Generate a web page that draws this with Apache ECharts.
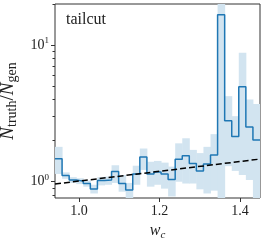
<!DOCTYPE html>
<html><head><meta charset="utf-8">
<script src="https://cdn.jsdelivr.net/npm/echarts@6/dist/echarts.min.js"></script>
<style>html,body{margin:0;padding:0;background:#fff}#c{width:274px;height:240px}</style>
</head><body><div id="c"></div>
<script>
// bin edges (w_c)
const binEdges = [0.9400, 0.9576, 0.9752, 0.9928, 1.0103, 1.0279, 1.0455, 1.0631, 1.0807, 1.0983,
  1.1159, 1.1334, 1.1510, 1.1686, 1.1862, 1.2038, 1.2214, 1.2390, 1.2566, 1.2741,
  1.2917, 1.3093, 1.3269, 1.3445, 1.3621, 1.3797, 1.3972, 1.4148, 1.4324, 1.4500];
// N_truth / N_gen per bin
const ratio = [1.47, 1.11, 1.03, 1.01, 0.97, 0.885, 1.02, 1.03, 1.19, 0.97,
  0.87, 1.14, 1.52, 1.14, 1.18, 1.14, 1.04, 1.46, 1.55, 1.36,
  1.20, 1.35, 1.57, 16.7, 2.79, 2.14, 4.95, 2.52, 2.02];
// uncertainty band
const bandLow = [1.14, 1.05, 0.98, 0.96, 0.92, 0.82, 0.94, 0.95, 0.98, 0.845,
  0.72, 0.95, 1.22, 0.92, 0.95, 0.89, 0.78, 1.00, 0.97, 0.97,
  0.88, 0.82, 0.86, 0.50, 1.30, 1.20, 1.12, 1.03, 0.70];
const bandHigh = [1.80, 1.17, 1.08, 1.06, 1.02, 0.95, 1.08, 1.09, 1.32, 1.12,
  0.98, 1.31, 1.75, 1.40, 1.42, 1.38, 1.29, 1.91, 2.08, 1.71,
  1.62, 1.80, 2.23, 40.0, 4.23, 3.02, 8.80, 4.00, 3.70];
// dashed reference line
const fitX = [0.94, 1.45];
const fitY = [0.962, 1.465];
const xTicks = [1.0, 1.2, 1.4];
const yMajorTicks = [1, 10];
const yMinorTicks = [0.8, 0.9, 2, 3, 4, 5, 6, 7, 8, 9, 20];
const panelLabel = 'tailcut';

const X_MIN = 0.94, X_MAX = 1.45, Y_MIN = 0.76, Y_MAX = 20;
const SERIF = '"Liberation Serif", "DejaVu Serif", serif';
const BLUE = '#1f77b4';

const stepData = binEdges.map((e, i) => [e, ratio[Math.min(i, ratio.length - 1)]]);
const bandData = ratio.map((_, i) => [binEdges[i], binEdges[i + 1], bandLow[i], bandHigh[i]]);
const fitData = fitX.map((x, i) => [x, fitY[i]]);

const chart = echarts.init(document.getElementById('c'), null, {renderer: 'canvas'});
const yLabelRich = {
  b: {fontFamily: SERIF, fontSize: 14, color: '#222', lineHeight: 18},
  p: {fontFamily: SERIF, fontSize: 9, color: '#222', lineHeight: 9, verticalAlign: 'top'}
};
chart.setOption({
  animation: false,
  backgroundColor: '#fff',
  grid: {left: 55, right: 14, top: 4, bottom: 42, outerBoundsMode: 'none', containLabel: false,
    show: true, borderColor: '#333', borderWidth: 1, backgroundColor: 'transparent'},
  xAxis: {
    type: 'value', min: X_MIN, max: X_MAX,
    axisLine: {show: false},
    splitLine: {show: false},
    axisTick: {show: true, length: 4, customValues: xTicks, lineStyle: {color: '#333'}},
    axisLabel: {customValues: xTicks, margin: 6, fontFamily: SERIF, fontSize: 14, color: '#222',
      formatter: v => v.toFixed(1)},
    name: '{i|w}{s|c}', nameLocation: 'middle', nameGap: 21,
    nameTextStyle: {rich: {
      i: {fontFamily: SERIF, fontStyle: 'italic', fontSize: 16, color: '#222', lineHeight: 20},
      s: {fontFamily: SERIF, fontStyle: 'italic', fontSize: 11, color: '#222', lineHeight: 10, verticalAlign: 'bottom'}
    }}
  },
  yAxis: [{
    type: 'log', logBase: 10, min: Y_MIN, max: Y_MAX,
    axisLine: {show: false},
    splitLine: {show: false},
    minorTick: {show: false},
    axisTick: {show: true, length: 4, customValues: yMajorTicks, lineStyle: {color: '#333'}},
    axisLabel: {customValues: yMajorTicks, margin: 6,
      formatter: v => '{b|10}{p|' + Math.round(Math.log10(v)) + '}', rich: yLabelRich},
    name: '{i|N}{s|truth}{n|/}{i|N}{s|gen}', nameLocation: 'middle', nameRotate: 90, nameGap: 35,
    nameTextStyle: {rich: {
      i: {fontFamily: SERIF, fontStyle: 'italic', fontSize: 19, color: '#222', lineHeight: 24},
      n: {fontFamily: SERIF, fontSize: 19, color: '#222', lineHeight: 24},
      s: {fontFamily: SERIF, fontSize: 14, color: '#222', lineHeight: 12, verticalAlign: 'bottom'}
    }}
  }, {
    type: 'log', logBase: 10, min: Y_MIN, max: Y_MAX, position: 'left',
    axisLine: {show: false}, splitLine: {show: false},
    axisTick: {show: true, length: 2.5, customValues: yMinorTicks, lineStyle: {color: '#333'}},
    axisLabel: {show: false}
  }],
  graphic: [{
    type: 'text', left: 66, top: 12,
    style: {text: panelLabel, font: '16px ' + SERIF, fill: '#222'}
  }],
  series: [{
    type: 'custom', clip: true, z: 1,
    renderItem: (params, api) => {
      const p0 = api.coord([api.value(0), api.value(3)]);
      const p1 = api.coord([api.value(1), api.value(2)]);
      return {type: 'rect', shape: {x: p0[0], y: p0[1], width: p1[0] - p0[0] + 0.5, height: p1[1] - p0[1]},
        style: {fill: '#d2e4f0'}};
    },
    encode: {x: [0, 1], y: [2, 3]},
    data: bandData
  }, {
    type: 'line', step: 'end', data: stepData, symbol: 'none', clip: true, z: 2,
    lineStyle: {color: BLUE, width: 1.5}
  }, {
    type: 'line', data: fitData, symbol: 'none', z: 3,
    lineStyle: {color: '#000', width: 1.5, type: [6, 3]}
  }]
});
</script></body></html>
